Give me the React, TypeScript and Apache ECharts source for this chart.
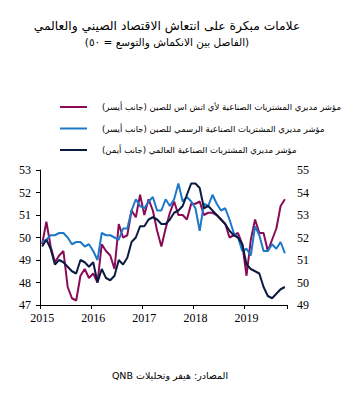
import React, { useEffect, useRef } from "react";
import * as echarts from "echarts";

const years = ["2015", "2016", "2017", "2018", "2019"];
const monthsInLastYear = 10;

const caixinPmi = [
  49.7, 50.7, 49.6, 48.9, 49.2, 49.4, 47.8, 47.3, 47.2, 48.3, 48.6, 48.2,
  48.4, 48.0, 49.7, 49.4, 49.2, 48.6, 50.6, 50.0, 50.1, 51.2, 50.9, 51.9,
  51.0, 51.7, 51.2, 50.3, 49.6, 50.4, 51.1, 51.6, 51.0, 51.0, 50.8, 51.5,
  51.5, 51.6, 51.0, 51.1, 51.1, 51.0, 50.8, 50.6, 50.0, 50.1, 50.2, 49.7,
  48.3, 49.9, 50.8, 50.2, 50.2, 49.4, 49.9, 50.4, 51.4, 51.7,
];

const officialPmi = [
  49.8, 49.9, 50.1, 50.1, 50.2, 50.2, 50.0, 49.7, 49.8, 49.8, 49.6, 49.7,
  49.4, 49.0, 50.2, 50.1, 50.1, 50.0, 49.9, 50.4, 50.4, 51.2, 51.7, 51.4,
  51.3, 51.6, 51.8, 51.2, 51.2, 51.7, 51.4, 51.7, 52.4, 51.6, 51.8, 51.6,
  51.3, 50.3, 51.5, 51.4, 51.9, 51.5, 51.2, 51.3, 50.8, 50.2, 50.0, 49.4,
  49.5, 49.2, 50.5, 50.1, 49.4, 49.4, 49.7, 49.5, 49.8, 49.3,
];

const globalPmi = [
  51.6, 51.9, 51.5, 50.8, 51.0, 50.9, 50.7, 50.5, 50.4, 51.0, 50.9, 50.7,
  50.9, 50.0, 50.6, 50.2, 50.1, 50.3, 51.0, 50.8, 51.1, 51.8, 52.0, 52.5,
  52.5, 52.8, 52.9, 52.8, 52.6, 52.6, 52.8, 53.1, 53.2, 53.4, 53.9, 54.4,
  54.4, 54.2, 53.3, 53.4, 53.2, 53.0, 52.8, 52.6, 52.3, 52.1, 52.0, 51.7,
  50.8, 50.6, 50.5, 50.4, 49.8, 49.4, 49.3, 49.5, 49.7, 49.8,
];

const seriesNames = [
  "مؤشر مديري المشتريات الصناعية لأي اتش اس للصين (جانب أيسر)",
  "مؤشر مديري المشتريات الصناعية الرسمي للصين (جانب أيسر)",
  "مؤشر مديري المشتريات الصناعية العالمي (جانب أيمن)",
];
const seriesColors = ["#8B0A57", "#1E78C8", "#0B1A40"];

const titleText = "علامات مبكرة على انتعاش الاقتصاد الصيني والعالمي";
const subtitleText = "(الفاصل بين الانكماش والتوسع = ٥٠)";
const sourceText = "المصادر: هيفر وتحليلات QNB";

const rtl = (s: string) => "\u202B" + s + "\u202C";

const categories: string[] = [];
years.forEach((y, yi) => {
  const n = yi === years.length - 1 ? monthsInLastYear : 12;
  for (let m = 1; m <= n; m++) categories.push(`${y}-${String(m).padStart(2, "0")}`);
});

const ARABIC_FONT = "DejaVu Sans, sans-serif";
const NUM_FONT = '"Times New Roman", "Liberation Serif", serif';

export default function App() {
  const ref = useRef<HTMLDivElement>(null);
  useEffect(() => {
    if (!ref.current) return;
    const chart = echarts.init(ref.current, undefined, { renderer: "svg" });
    const yearTick = (i: number) => i % 12 === 0;
    chart.setOption({
      animation: false,
      backgroundColor: "#ffffff",
      grid: { left: 40, right: 65, top: 170, bottom: 91, containLabel: false },
      legend: {
        orient: "vertical",
        left: 55,
        top: 96,
        itemWidth: 27,
        itemHeight: 2,
        itemGap: 9.5,
        icon: "rect",
        formatter: (name: string) => rtl(name),
        textStyle: {
          fontFamily: ARABIC_FONT,
          fontSize: 8.5,
          lineHeight: 12,
          color: "#000",
          padding: [0, 0, 0, 10],
        },
        data: seriesNames,
      },
      graphic: [
        {
          type: "text",
          x: 167,
          y: 26,
          style: {
            text: titleText,
            fontFamily: ARABIC_FONT,
            fontSize: 12.3,
            fill: "#000",
            align: "center",
            verticalAlign: "middle",
          },
        },
        {
          type: "text",
          x: 167,
          y: 42,
          style: {
            text: rtl(subtitleText),
            fontFamily: ARABIC_FONT,
            fontSize: 10.5,
            fill: "#000",
            align: "center",
            verticalAlign: "middle",
          },
        },
        {
          type: "text",
          x: 170,
          y: 375,
          style: {
            text: rtl(sourceText),
            fontFamily: ARABIC_FONT,
            fontSize: 9.5,
            fill: "#000",
            align: "center",
            verticalAlign: "middle",
          },
        },
      ],
      xAxis: {
        type: "category",
        data: categories,
        boundaryGap: true,
        axisLine: { show: true, lineStyle: { color: "#000", width: 1 } },
        axisTick: { show: true, interval: (i: number) => yearTick(i), length: 4, lineStyle: { color: "#000" } },
        axisLabel: {
          interval: (i: number) => yearTick(i),
          formatter: (v: string) => v.slice(0, 4),
          fontFamily: NUM_FONT,
          fontSize: 12,
          color: "#000",
          margin: 7,
        },
        splitLine: { show: false },
      },
      yAxis: [
        {
          type: "value",
          min: 47,
          max: 53,
          interval: 1,
          position: "left",
          axisLine: { show: true, lineStyle: { color: "#000", width: 1 } },
          axisTick: { show: true, length: 4, lineStyle: { color: "#000" } },
          axisLabel: { fontFamily: NUM_FONT, fontSize: 12, color: "#000", margin: 9 },
          splitLine: { show: false },
        },
        {
          type: "value",
          min: 49,
          max: 55,
          interval: 1,
          position: "right",
          axisLine: { show: false },
          axisTick: { show: false },
          axisLabel: { fontFamily: NUM_FONT, fontSize: 12, color: "#000", margin: 10 },
          splitLine: { show: false },
        },
      ],
      series: [
        {
          name: seriesNames[0],
          type: "line",
          yAxisIndex: 0,
          data: caixinPmi,
          showSymbol: false,
          symbol: "none",
          lineStyle: { color: seriesColors[0], width: 2 },
          itemStyle: { color: seriesColors[0] },
          z: 3,
        },
        {
          name: seriesNames[1],
          type: "line",
          yAxisIndex: 0,
          data: officialPmi,
          showSymbol: false,
          symbol: "none",
          lineStyle: { color: seriesColors[1], width: 2 },
          itemStyle: { color: seriesColors[1] },
          z: 4,
        },
        {
          name: seriesNames[2],
          type: "line",
          yAxisIndex: 1,
          data: globalPmi,
          showSymbol: false,
          symbol: "none",
          lineStyle: { color: seriesColors[2], width: 2 },
          itemStyle: { color: seriesColors[2] },
          z: 5,
        },
      ],
    });
    return () => chart.dispose();
  }, []);
  return <div ref={ref} style={{ width: 352, height: 396, position: "absolute", left: 0, top: 0 }} />;
}
